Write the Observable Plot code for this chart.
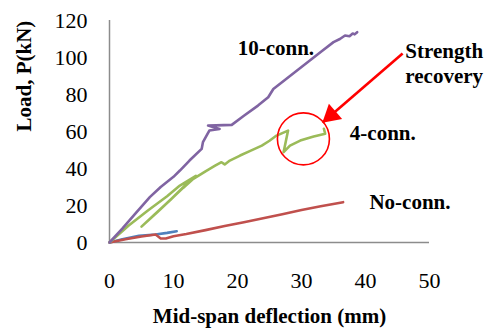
<!DOCTYPE html>
<html>
<head>
<meta charset="utf-8">
<script src="https://cdn.jsdelivr.net/npm/d3@7"></script>
<script src="https://cdn.jsdelivr.net/npm/@observablehq/plot@0.6"></script>
<style>
  html, body { margin: 0; padding: 0; background: #fff; }
  svg text { font-family: 'Liberation Serif', 'Times New Roman', serif; }
</style>
</head>
<body>
<div id="chart"></div>
<script>
// Tick labels
const xTicks = [0, 10, 20, 30, 40, 50];
const yTicks = [0, 20, 40, 60, 80, 100, 120];

// Series: No-conn. (red)
const noConnX = [0, 2.5, 5, 7.2, 8.0, 8.8, 10, 12, 15, 18, 21, 24, 27, 30, 33, 36.5];
const noConnY = [0, 1.8, 3.2, 4.3, 2.2, 2.2, 3.4, 4.6, 6.7, 8.9, 11, 13.1, 15.3, 17.6, 19.6, 21.8];

// Series: blue (short)
const blueX = [0, 2, 4.6, 7.2, 9, 10.5];
const blueY = [0, 1.8, 3.6, 4.3, 5.2, 6.1];

// Series: 4-conn. (green)
const fourConnX = [0, 3, 6, 9, 11, 13.5, 12, 9.5, 7, 5, 7.5, 9.4, 11.5, 13.1, 15, 16.5, 17.5, 18, 18.8, 20.4, 22, 23.8, 25, 26.1, 27.9, 27.2, 28.2, 29.8, 31.9, 33.7, 33.5];
const fourConnY = [0, 9.2, 17.3, 25, 30.8, 36, 31.5, 23, 15, 8.6, 16.5, 22.7, 29.5, 34.4, 38.5, 41.5, 43.4, 42.2, 44.3, 47, 49.5, 52.4, 55, 57.8, 60.5, 48.8, 52.4, 55.1, 57.3, 58.8, 61.5];

// Series: 10-conn. (purple)
const tenConnX = [0, 2, 4, 6.3, 8, 10, 11, 12.5, 14.4, 14.6, 15.6, 17.2, 15.4, 19.1, 21, 23.2, 24.8, 25.6, 28, 31.3, 33, 35, 36, 36.8, 37.5, 38, 38.3, 38.7];
const tenConnY = [0, 7.5, 15.5, 24.5, 30, 35.5, 38.9, 44.3, 50.6, 54.2, 60.5, 61.4, 63.2, 63.6, 68.5, 74, 78.5, 83, 89.5, 98.4, 103, 108.3, 110, 111.9, 111.5, 113, 112.5, 113.7];

// Annotations (data coordinates)
const labelText = ["10-conn.", "Strength", "recovery", "4-conn.", "No-conn."];
const labelX = [26.0, 52.3, 52.3, 42.7, 46.95];
const labelY = [105.2, 103.1, 89.6, 59.3, 22.0];
const circleXY = [30.3, 56];
const arrowFrom = [45.8, 102.2];
const arrowTo = [33.3, 64.9];

const serif = "'Liberation Serif', 'Times New Roman', serif";
const toRows = (xs, ys) => xs.map((x, i) => ({x, y: ys[i]}));
const labels = labelText.map((t, i) => ({t, x: labelX[i], y: labelY[i]}));

const lineOpts = {x: "x", y: "y", strokeWidth: 2.6, strokeLinejoin: "round", strokeLinecap: "round", curve: "linear"};

const chart = Plot.plot({
  width: 491,
  height: 333,
  marginLeft: 109,
  marginRight: 62,
  marginTop: 20,
  marginBottom: 91,
  x: {domain: [0, 50]},
  y: {domain: [0, 120]},
  style: {fontFamily: serif, fontSize: "22px", color: "#000", background: "#fff", overflow: "visible"},
  marks: [
    Plot.ruleY([0], {stroke: "#8c8c8c", strokeWidth: 1.5}),
    Plot.ruleX([0], {stroke: "#8c8c8c", strokeWidth: 1.5}),
    Plot.axisX(xTicks, {tickSize: 0, tickPadding: 30, label: null, fontSize: 22, fontFamily: serif}),
    Plot.axisY(yTicks, {tickSize: 0, tickPadding: 22, label: null, fontSize: 22, fontFamily: serif}),
    Plot.line(toRows(blueX, blueY), {...lineOpts, stroke: "#4F81BD"}),
    Plot.line(toRows(noConnX, noConnY), {...lineOpts, stroke: "#C0504D"}),
    Plot.line(toRows(fourConnX, fourConnY), {...lineOpts, stroke: "#9BBB59"}),
    Plot.line(toRows(tenConnX, tenConnY), {...lineOpts, stroke: "#8064A2"}),
    Plot.dot([circleXY], {x: d => d[0], y: d => d[1], r: 26, stroke: "#FF0000", fill: "none", strokeWidth: 1.6}),
    Plot.link([0], {x1: () => arrowFrom[0], y1: () => arrowFrom[1], x2: () => arrowTo[0], y2: () => arrowTo[1], stroke: "#FF0000", strokeWidth: 2.6}),
    Plot.dot([arrowTo], {x: d => d[0], y: d => d[1], symbol: "triangle", r: 7.5, rotate: 229, fill: "#FF0000", stroke: "none", dx: 8.5, dy: -7.3}),
    Plot.text(labels, {x: "x", y: "y", text: "t", fontWeight: "bold", fontSize: 21, fontFamily: serif, fill: "#000", lineAnchor: "middle", textAnchor: "middle", clip: false}),
    Plot.text(["Mid-span deflection (mm)"], {frameAnchor: "bottom", dy: 80, text: d => d, fontWeight: "bold", fontSize: 21, fontFamily: serif, fill: "#000"}),
    Plot.text(["Load, P(kN)"], {frameAnchor: "left", dx: -85, rotate: -90, text: d => d, fontWeight: "bold", fontSize: 21, fontFamily: serif, fill: "#000"})
  ]
});
document.getElementById("chart").appendChild(chart);
</script>
</body>
</html>
